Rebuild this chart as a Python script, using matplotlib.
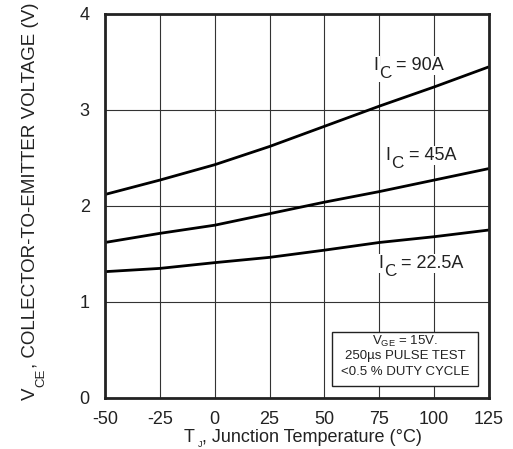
import matplotlib
matplotlib.use("Agg")
import matplotlib.pyplot as plt
from matplotlib.patches import Rectangle

plt.rcParams['font.family'] = ['Liberation Sans', 'DejaVu Sans']

temps = [-50, -25, 0, 25, 50, 75, 100, 125]
vce_90 = [2.12, 2.27, 2.43, 2.62, 2.83, 3.04, 3.24, 3.45]
vce_45 = [1.62, 1.715, 1.80, 1.92, 2.04, 2.15, 2.27, 2.39]
vce_22 = [1.316, 1.35, 1.41, 1.465, 1.54, 1.62, 1.68, 1.75]

xticks = [-50, -25, 0, 25, 50, 75, 100, 125]
yticks = [0, 1, 2, 3, 4]

curve_labels = [("C", " = 90A", 72.4, 3.417),
                ("C", " = 45A", 78.0, 2.479),
                ("C", " = 22.5A", 74.6, 1.351)]

TXT = '#222222'

fig = plt.figure(figsize=(5.13, 4.49), dpi=100)
ax = fig.add_axes([105/513, 51/449, 384/513, 384/449])

for v in (vce_90, vce_45, vce_22):
    ax.plot(temps, v, color='black', lw=2.0, zorder=3, solid_capstyle='butt')

ax.set_xlim(-50, 125)
ax.set_ylim(0, 4)
ax.set_xticks(xticks)
ax.set_yticks(yticks)
ax.set_xticklabels([str(t) for t in xticks])
ax.set_yticklabels([str(t) for t in yticks])
ax.tick_params(length=0, labelsize=13, colors=TXT)
ax.tick_params(axis='x', pad=9)
ax.tick_params(axis='y', pad=11)
ax.grid(True, color='#333333', lw=0.8)
for s in ax.spines.values():
    s.set_linewidth(2.0)
    s.set_color('#222222')
    s.set_zorder(6)

# curve labels with lowered subscripts
wb = dict(facecolor='white', edgecolor='none', pad=0.8)
for sub, rest, x, y in curve_labels:
    t1 = ax.text(x, y, 'I', fontsize=13, color=TXT, ha='left', va='baseline',
                 zorder=4, bbox=wb)
    t2 = ax.annotate(sub, xy=(1, 0), xycoords=t1, xytext=(0.3, -5.0),
                     textcoords='offset points', fontsize=12.5, color=TXT,
                     ha='left', va='bottom', zorder=4, bbox=wb)
    ax.annotate(rest, xy=(1, 0), xycoords=(t2, t1), xytext=(0, 0),
                textcoords='offset points', fontsize=13, color=TXT,
                ha='left', va='bottom', zorder=4, bbox=wb)

# x label
xt1 = fig.text(184/513, 7.5/449, 'T', fontsize=13, color=TXT, ha='left', va='baseline')
xt2 = ax.annotate('J', xy=(1, 0), xycoords=xt1, xytext=(1.8, -1.2),
                  textcoords='offset points', fontsize=6.5, color=TXT,
                  ha='left', va='baseline', annotation_clip=False)
ax.annotate(', Junction Temperature (°C)', xy=(1, 0), xycoords=(xt2, xt1),
            xytext=(0, 0), textcoords='offset points', fontsize=13, color=TXT,
            ha='left', va='bottom', annotation_clip=False)

# y label
yt1 = fig.text(39/513, 49/449, 'V', fontsize=13.5, color=TXT, rotation=90,
               ha='right', va='bottom')
yt2 = ax.annotate('CE', xy=(1, 1), xycoords=yt1, xytext=(-2.5, 0.5),
                  textcoords='offset points', fontsize=9.5, color=TXT,
                  rotation=90, ha='left', va='bottom', annotation_clip=False)
ax.annotate(', COLLECTOR-TO-EMITTER VOLTAGE (V)', xy=(1, 1), xycoords=(yt1, yt2),
            xytext=(0, 0), textcoords='offset points', fontsize=13.5, color=TXT,
            rotation=90, ha='right', va='bottom', annotation_clip=False)

# test-condition box
ax.add_patch(Rectangle((0.591, 0.0312), 0.380, 0.1407, transform=ax.transAxes,
                       facecolor='white', edgecolor='#222222', lw=1.0, zorder=5))
cx = 0.781
ax.text(cx, 0.138, r'V$_{\mathregular{GE}}$ = 15V.', transform=ax.transAxes,
        fontsize=9.5, color=TXT, ha='center', va='baseline', zorder=6)
ax.text(cx, 0.1016, '250µs PULSE TEST', transform=ax.transAxes,
        fontsize=9.5, color=TXT, ha='center', va='baseline', zorder=6)
ax.text(cx, 0.0599, '<0.5 % DUTY CYCLE', transform=ax.transAxes,
        fontsize=9.5, color=TXT, ha='center', va='baseline', zorder=6)

fig.savefig('out.png', dpi=100)
